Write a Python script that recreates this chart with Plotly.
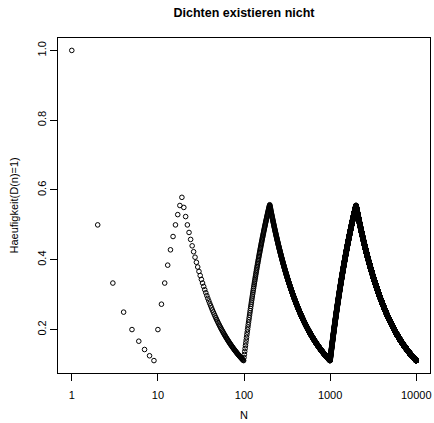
import numpy as np
import plotly.graph_objects as go

# Data: for each N = 1..10000, share of integers n <= N whose leading digit D(n) is 1
N_max = 10000
N_values = np.arange(1, N_max + 1)
leading_digit = np.array([int(str(n)[0]) for n in N_values])
share_leading_one = np.cumsum(leading_digit == 1) / N_values

x_tick_vals = [1, 10, 100, 1000, 10000]
x_tick_text = ["1", "10", "100", "1000", "10000"]
y_tick_vals = [0.2, 0.4, 0.6, 0.8, 1.0]

title_text = "Dichten existieren nicht"
x_label = "N"
y_label = "Haeufigkeit(D(n)=1)"

# R-style 4% padding
lx0, lx1 = np.log10(N_values.min()), np.log10(N_values.max())
px = 0.04 * (lx1 - lx0)
y0, y1 = share_leading_one.min(), share_leading_one.max()
py = 0.04 * (y1 - y0)

fig = go.Figure(go.Scatter(
    x=N_values, y=share_leading_one, mode="markers",
    marker=dict(symbol="circle-open", size=4.6, color="black",
                line=dict(width=1, color="black")),
    hoverinfo="skip", showlegend=False))

font = "Liberation Sans, Arial, Helvetica, sans-serif"
W, H = 434, 423
fig.update_layout(
    width=W, height=H,
    margin=dict(l=58, r=4, t=38, b=50, autoexpand=False),
    paper_bgcolor="white", plot_bgcolor="white",
    font=dict(family=font, size=11, color="black"),
    title=dict(text="<b>" + title_text + "</b>", x=0.5, xref="paper",
               xanchor="center", y=1 - 13 / H, yanchor="middle",
               font=dict(size=12.5, color="black")),
    annotations=[
        dict(text=x_label, xref="paper", yref="paper", x=0.5,
             y=-(415 - 373) / (H - 38 - 50), xanchor="center", yanchor="middle",
             showarrow=False, font=dict(size=11)),
        dict(text=y_label, xref="paper", yref="paper",
             x=-(58 - 13) / (W - 58 - 4), y=0.5, xanchor="center", yanchor="middle",
             textangle=-90, showarrow=False, font=dict(size=11)),
    ],
)
fig.update_xaxes(
    type="log", range=[lx0 - px, lx1 + px], automargin=False,
    tickvals=x_tick_vals, ticktext=x_tick_text,
    ticks="outside", ticklen=7, tickwidth=1, tickcolor="black",
    ticklabelstandoff=5,
    showline=True, linecolor="black", linewidth=1, mirror=True,
    showgrid=False, zeroline=False,
)
fig.update_yaxes(
    range=[y0 - py, y1 + py], automargin=False,
    tickvals=y_tick_vals, tickformat=".1f", tickangle=-90,
    ticks="outside", ticklen=7, tickwidth=1, tickcolor="black",
    showline=True, linecolor="black", linewidth=1, mirror=True,
    showgrid=False, zeroline=False,
)
fig.write_html("out.html", config={"displayModeBar": False},
               post_script="document.body.style.margin='0';document.body.style.overflow='hidden';")
